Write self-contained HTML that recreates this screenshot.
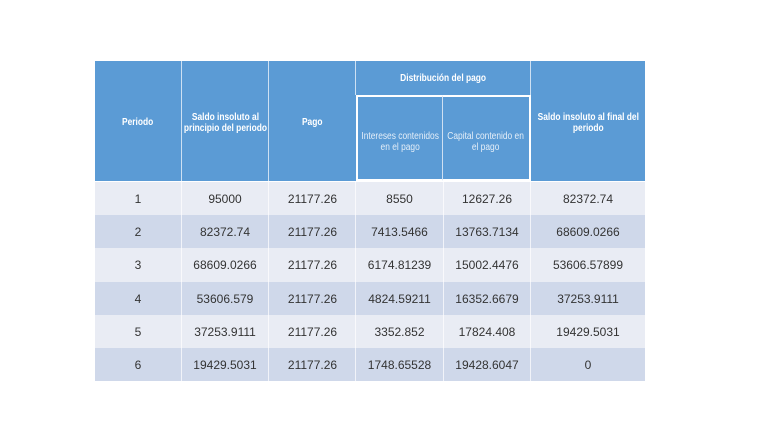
<!DOCTYPE html>
<html><head><meta charset="utf-8">
<style>
html,body{margin:0;padding:0;background:#fff;}
body{width:768px;height:432px;position:relative;overflow:hidden;font-family:"Liberation Sans",sans-serif;}
.c{position:absolute;box-sizing:border-box;display:flex;align-items:center;justify-content:center;text-align:center;}
.h{background:#5B9BD5;color:#fff;font-weight:bold;font-size:10px;line-height:11px;}
.h span{display:inline-block;transform:scaleX(0.84);white-space:nowrap;}
.s{color:#E4EEF8;font-weight:normal;}
.b{font-size:12px;color:#333;}
.l{background:#E9ECF4;}
.d{background:#CFD8EA;}
.vl{position:absolute;background:#fff;opacity:0.7;width:1px;}
</style></head><body>
<!-- header -->
<div class="c h" style="left:95px;top:61px;width:86px;height:120px;padding-top:3px;"><span>Periodo</span></div>
<div class="c h" style="left:181px;top:61px;width:88px;height:120px;padding-top:3px;"><span>Saldo insoluto al<br>principio del periodo</span></div>
<div class="c h" style="left:269px;top:61px;width:87px;height:120px;padding-top:3px;"><span>Pago</span></div>
<div class="c h" style="left:356px;top:61px;width:175px;height:34px;"><span>Distribución del pago</span></div>
<div class="c h" style="left:356px;top:95px;width:87px;height:86px;border:2px solid #fff;border-right:1px solid #cfe0f2;padding-top:8px;"><span class="s">Intereses contenidos<br>en el pago</span></div>
<div class="c h" style="left:443px;top:95px;width:88px;height:86px;border:2px solid #fff;border-left:none;padding-top:8px;"><span class="s">Capital contenido en<br>el pago</span></div>
<div class="c h" style="left:531px;top:61px;width:114px;height:120px;padding-top:3px;"><span>Saldo insoluto al final del<br>periodo</span></div>

<!-- body rows -->
<div class="c b l" style="left:95px;top:182px;width:86px;height:33px;">1</div>
<div class="c b l" style="left:181px;top:182px;width:88px;height:33px;">95000</div>
<div class="c b l" style="left:269px;top:182px;width:87px;height:33px;">21177.26</div>
<div class="c b l" style="left:356px;top:182px;width:87px;height:33px;">8550</div>
<div class="c b l" style="left:443px;top:182px;width:88px;height:33px;">12627.26</div>
<div class="c b l" style="left:531px;top:182px;width:114px;height:33px;">82372.74</div>

<div class="c b d" style="left:95px;top:215px;width:86px;height:33px;">2</div>
<div class="c b d" style="left:181px;top:215px;width:88px;height:33px;">82372.74</div>
<div class="c b d" style="left:269px;top:215px;width:87px;height:33px;">21177.26</div>
<div class="c b d" style="left:356px;top:215px;width:87px;height:33px;">7413.5466</div>
<div class="c b d" style="left:443px;top:215px;width:88px;height:33px;">13763.7134</div>
<div class="c b d" style="left:531px;top:215px;width:114px;height:33px;">68609.0266</div>

<div class="c b l" style="left:95px;top:248px;width:86px;height:34px;">3</div>
<div class="c b l" style="left:181px;top:248px;width:88px;height:34px;">68609.0266</div>
<div class="c b l" style="left:269px;top:248px;width:87px;height:34px;">21177.26</div>
<div class="c b l" style="left:356px;top:248px;width:87px;height:34px;">6174.81239</div>
<div class="c b l" style="left:443px;top:248px;width:88px;height:34px;">15002.4476</div>
<div class="c b l" style="left:531px;top:248px;width:114px;height:34px;">53606.57899</div>

<div class="c b d" style="left:95px;top:282px;width:86px;height:33px;">4</div>
<div class="c b d" style="left:181px;top:282px;width:88px;height:33px;">53606.579</div>
<div class="c b d" style="left:269px;top:282px;width:87px;height:33px;">21177.26</div>
<div class="c b d" style="left:356px;top:282px;width:87px;height:33px;">4824.59211</div>
<div class="c b d" style="left:443px;top:282px;width:88px;height:33px;">16352.6679</div>
<div class="c b d" style="left:531px;top:282px;width:114px;height:33px;">37253.9111</div>

<div class="c b l" style="left:95px;top:315px;width:86px;height:33px;">5</div>
<div class="c b l" style="left:181px;top:315px;width:88px;height:33px;">37253.9111</div>
<div class="c b l" style="left:269px;top:315px;width:87px;height:33px;">21177.26</div>
<div class="c b l" style="left:356px;top:315px;width:87px;height:33px;">3352.852</div>
<div class="c b l" style="left:443px;top:315px;width:88px;height:33px;">17824.408</div>
<div class="c b l" style="left:531px;top:315px;width:114px;height:33px;">19429.5031</div>

<div class="c b d" style="left:95px;top:348px;width:86px;height:33px;">6</div>
<div class="c b d" style="left:181px;top:348px;width:88px;height:33px;">19429.5031</div>
<div class="c b d" style="left:269px;top:348px;width:87px;height:33px;">21177.26</div>
<div class="c b d" style="left:356px;top:348px;width:87px;height:33px;">1748.65528</div>
<div class="c b d" style="left:443px;top:348px;width:88px;height:33px;">19428.6047</div>
<div class="c b d" style="left:531px;top:348px;width:114px;height:33px;">0</div>

<!-- vertical separators -->
<div class="vl" style="left:181px;top:61px;height:320px;"></div>
<div class="vl" style="left:268px;top:61px;height:320px;"></div>
<div class="vl" style="left:355px;top:181px;height:200px;"></div>
<div class="vl" style="left:443px;top:181px;height:200px;"></div>
<div class="vl" style="left:530px;top:181px;height:200px;"></div>
<div class="vl" style="left:355px;top:61px;height:34px;"></div>
<div class="vl" style="left:530px;top:61px;height:34px;"></div>
</body></html>
